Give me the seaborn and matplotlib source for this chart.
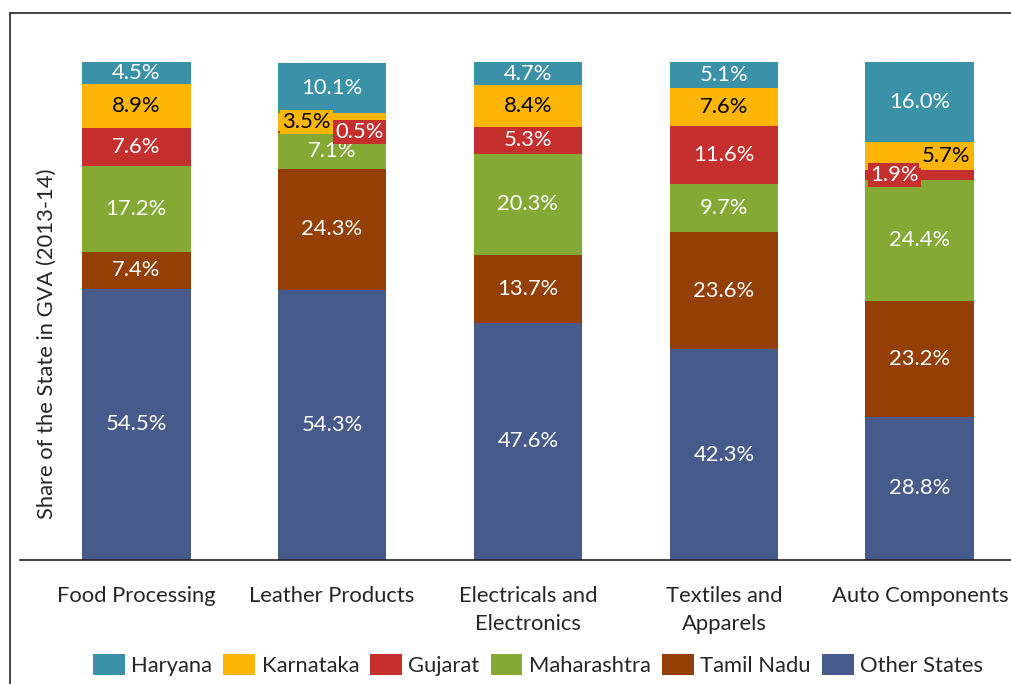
import pandas as pd
import seaborn as sns
import matplotlib.pyplot as plt
import numpy as np

# =========================
# Data (share of the state in GVA, 2013-14)
# =========================
sectors = ["Food Processing", "Leather Products", "Electricals and\nElectronics",
           "Textiles and\nApparels", "Auto Components"]
states = ["Haryana", "Karnataka", "Gujarat", "Maharashtra", "Tamil Nadu", "Other States"]
colors = ["#3A91A8", "#FDB608", "#C5302F", "#84A935", "#933F05", "#475A8C"]

other_states = [54.5, 54.3, 47.6, 42.3, 28.8]
tamil_nadu = [7.4, 24.3, 13.7, 23.6, 23.2]
maharashtra = [17.2, 7.1, 20.3, 9.7, 24.4]
gujarat = [7.6, 0.5, 5.3, 11.6, 1.9]
karnataka = [8.9, 3.5, 8.4, 7.6, 5.7]
haryana = [4.5, 10.1, 4.7, 5.1, 16.0]

# stacked from bottom to top
stack_order = ["Other States", "Tamil Nadu", "Maharashtra", "Gujarat", "Karnataka", "Haryana"]
values = {
    "Other States": other_states,
    "Tamil Nadu": tamil_nadu,
    "Maharashtra": maharashtra,
    "Gujarat": gujarat,
    "Karnataka": karnataka,
    "Haryana": haryana,
}
color_map = dict(zip(states, colors))

# labels that need a box and a sideways shift (sector index, state) -> x offset
shifted = {(1, "Karnataka"): -0.13, (1, "Gujarat"): 0.14,
           (4, "Gujarat"): -0.13, (4, "Karnataka"): 0.13}

# =========================
# Cumulative table
# =========================
df = pd.DataFrame(values, index=sectors)[stack_order]
cum = df.cumsum(axis=1)
long = cum.reset_index().melt(id_vars="index", var_name="State", value_name="Top")
long = long.rename(columns={"index": "Sector"})

# =========================
# Plot
# =========================
sns.set_style("white")
plt.rcParams["font.family"] = ["Lato", "DejaVu Sans"]
FS = 15.8

fig = plt.figure(figsize=(10.11, 6.84), dpi=100)
ax = fig.add_axes([20 / 1011, 124 / 684, 1016 / 1011, 498 / 684])

# draw the tallest cumulative bar first, lower segments on top of it
for state in stack_order[::-1]:
    sub = long[long["State"] == state]
    sns.barplot(data=sub, x="Sector", y="Top", order=sectors, color=color_map[state],
                saturation=1, width=0.556, linewidth=0, ax=ax)

# segment labels
for i, sector in enumerate(sectors):
    base = 0
    for state in stack_order:
        v = df.loc[sector, state]
        mid = base + v / 2
        base += v
        txt_color = "black" if state == "Karnataka" else "white"
        dx = shifted.get((i, state), 0)
        kw = {}
        if (i, state) in shifted:
            kw["bbox"] = dict(boxstyle="square,pad=0.1", fc=color_map[state], ec="none")
        ax.text(i + dx, mid, f"{v:.1f}%", ha="center", va="center",
                color=txt_color, fontsize=FS, **kw)

ax.set_xlim(-0.592, 4.592)
ax.set_ylim(0, 100)
ax.set_yticks([])
ax.set_xlabel("")
ax.set_ylabel("")
ax.tick_params(axis="x", length=0, pad=19, labelsize=FS)
for lab in ax.get_xticklabels():
    lab.set_linespacing(1.45)
for s in ["top", "left", "right"]:
    ax.spines[s].set_visible(False)
ax.spines["bottom"].set_color("#222222")
ax.spines["bottom"].set_linewidth(1.2)

fig.text(47 / 1011, 0.497, "Share of the State in GVA (2013-14)", rotation=90,
         ha="center", va="center", fontsize=FS)

# legend
handles = [plt.Rectangle((0, 0), 1, 1, fc=color_map[s], ec="none") for s in states]
fig.legend(handles, states, loc="center", bbox_to_anchor=(538 / 1011, 19 / 684),
           ncol=6, frameon=False, fontsize=FS, handlelength=1.45, handleheight=1.05,
           handletextpad=0.3, columnspacing=0.5)

# outer frame (cropped on the right and bottom)
fig.add_artist(plt.Rectangle((10 / 1011, -0.2), 1.2, 1.2 - 13 / 684, transform=fig.transFigure,
                             fill=False, ec="#222222", lw=1.2))

plt.savefig("out.png", dpi=100)
plt.close(fig)
